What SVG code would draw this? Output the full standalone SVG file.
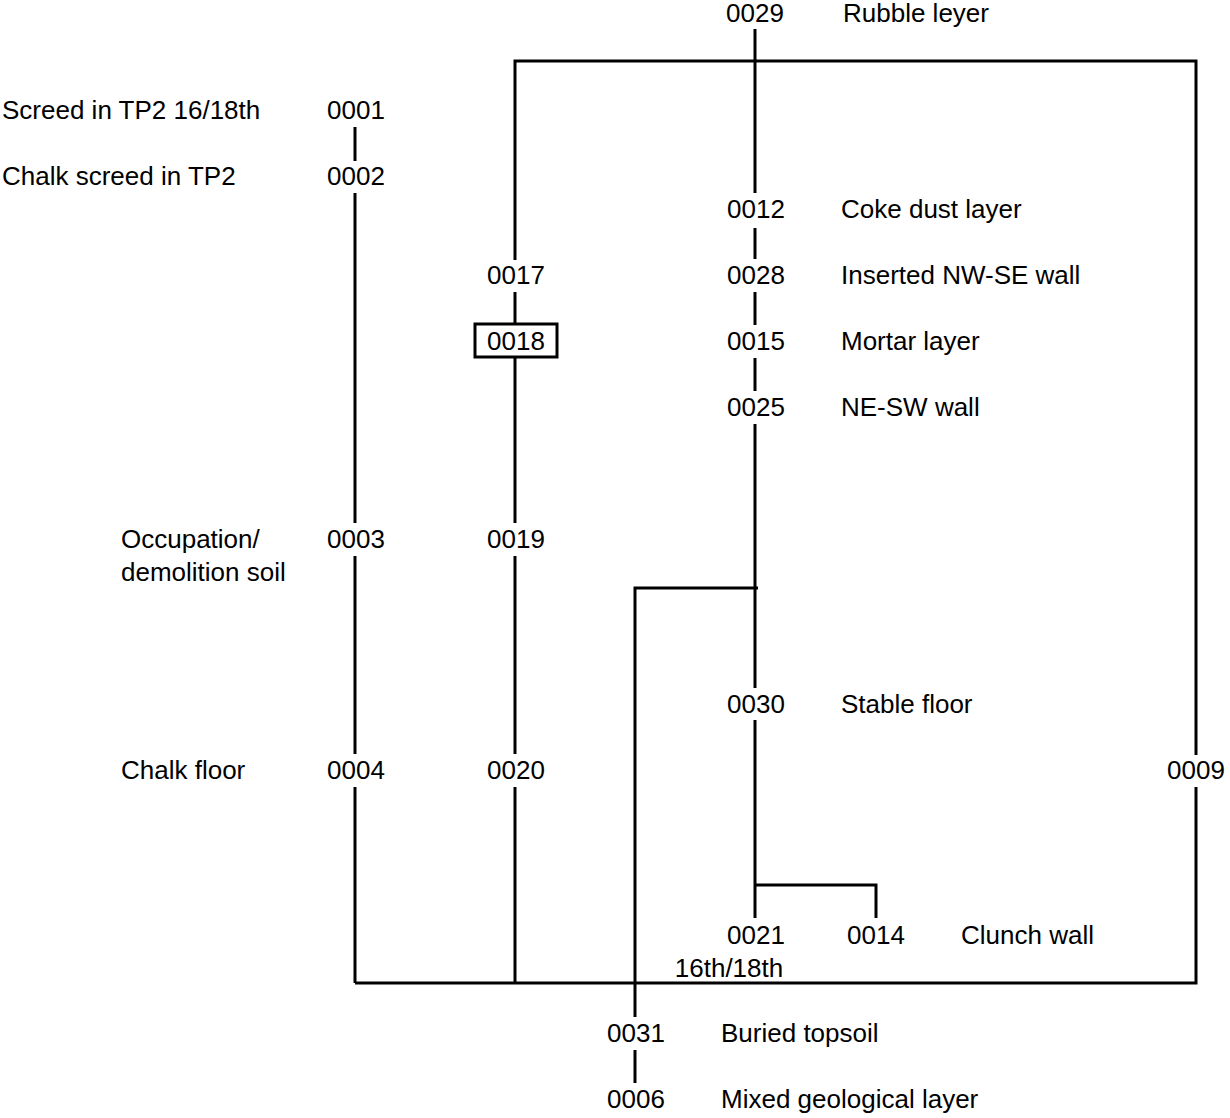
<svg xmlns="http://www.w3.org/2000/svg" width="1230" height="1118" viewBox="0 0 1230 1118">
<style>
text{font-family:"Liberation Sans",Arial,sans-serif;font-size:26px;fill:#000}
.c{text-anchor:middle}
.l{stroke:#000;stroke-width:3;fill:none;stroke-linecap:butt}
</style>
<rect width="1230" height="1118" fill="#fff"/>
<g id="connectors" class="l">
<path d="M515 260V61H1196V755M1196 787V983H355"/>
<path d="M755 29V193M755 228V259M755 292V325M755 358V391M755 424V688M755 720V918"/>
<path d="M758 588H635V1017M635 1050V1083"/>
<path d="M755 885H876V918"/>
<path d="M355 127V161M355 193V523M355 556V754M355 787V983"/>
<path d="M515 292V324M515 357V523M515 556V754M515 787V983"/>
</g>
<g id="n0029"><text class="c" x="755" y="22">0029</text><text x="843" y="22">Rubble leyer</text></g>
<g id="n0001"><text class="c" x="356" y="119">0001</text><text x="2" y="119">Screed in TP2 16/18th</text></g>
<g id="n0002"><text class="c" x="356" y="185">0002</text><text x="2" y="185">Chalk screed in TP2</text></g>
<g id="n0012"><text class="c" x="756" y="218">0012</text><text x="841" y="218">Coke dust layer</text></g>
<g id="n0017"><text class="c" x="516" y="284">0017</text></g>
<g id="n0028"><text class="c" x="756" y="284">0028</text><text x="841" y="284">Inserted NW-SE wall</text></g>
<g id="n0018"><rect class="l" x="475" y="324" width="82" height="33"/><text class="c" x="516" y="350">0018</text></g>
<g id="n0015"><text class="c" x="756" y="350">0015</text><text x="841" y="350">Mortar layer</text></g>
<g id="n0025"><text class="c" x="756" y="416">0025</text><text x="841" y="416">NE-SW wall</text></g>
<g id="n0003"><text class="c" x="356" y="548">0003</text><text x="121" y="548">Occupation/</text><text x="121" y="581">demolition soil</text></g>
<g id="n0019"><text class="c" x="516" y="548">0019</text></g>
<g id="n0030"><text class="c" x="756" y="713">0030</text><text x="841" y="713">Stable floor</text></g>
<g id="n0004"><text class="c" x="356" y="779">0004</text><text x="121" y="779">Chalk floor</text></g>
<g id="n0020"><text class="c" x="516" y="779">0020</text></g>
<g id="n0009"><text class="c" x="1196" y="779">0009</text></g>
<g id="n0021"><text class="c" x="756" y="944">0021</text><text class="c" x="729" y="977">16th/18th</text></g>
<g id="n0014"><text class="c" x="876" y="944">0014</text><text x="961" y="944">Clunch wall</text></g>
<g id="n0031"><text class="c" x="636" y="1042">0031</text><text x="721" y="1042">Buried topsoil</text></g>
<g id="n0006"><text class="c" x="636" y="1108">0006</text><text x="721" y="1108">Mixed geological layer</text></g>
</svg>
